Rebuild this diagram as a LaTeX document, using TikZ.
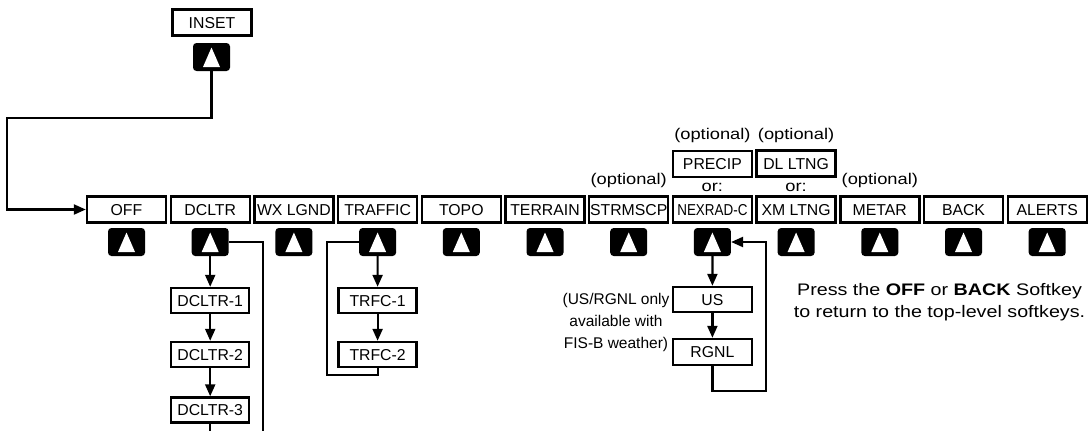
\documentclass[tikz,border=0pt]{standalone}
\usepackage{graphicx}
\usepackage{fontspec}
\setmainfont{Liberation Sans}
\newfontfamily\widefont[FakeStretch=1.18]{Liberation Sans}
\usetikzlibrary{arrows.meta}
\begin{document}
\begin{tikzpicture}[x=1pt,y=-1pt,
  lbl/.style={draw,line width=2.4pt,minimum width=79pt,minimum height=26pt,inner sep=0pt,
    text height=11.3pt,text depth=0pt,font=\fontsize{15.8}{18}\selectfont},
  sub/.style={lbl,minimum width=78pt,minimum height=25pt},
  key/.style={fill=black,rounded corners=3.5pt,minimum width=37pt,minimum height=28pt,inner sep=0pt,
    path picture={\fill[white,sharp corners] ([yshift=9.5pt]path picture bounding box.center) -- ++(8.5,19.5) -- ++(-17,0) -- cycle;}},
  conn/.style={line width=2.2pt},
  arr/.style={conn,-{Triangle[length=12pt,width=10pt]}},
  note/.style={inner sep=0pt,font=\widefont\fontsize{15.5}{18}\selectfont},
]
\path[use as bounding box,fill=white] (0,0) rectangle (1089,431);

% top row
\foreach \t [count=\i from 0] in {OFF,DCLTR,WX LGND,TRAFFIC,TOPO,TERRAIN,STRMSCP,{\scalebox{0.85}[1]{NEXRAD-C}},XM LTNG,METAR,BACK,ALERTS} {
  \node[lbl] (b\i) at ({126.5+83.7*\i},209.5) {\t};
  \node[key] (k\i) at ({126.5+83.7*\i},242) {};
}

% inset
\node[lbl] (inset) at (212,22.5) {INSET};
\node[key] (ki) at (211.5,57) {};
\coordinate (c1) at (7,118);
\draw[arr] (ki.south) -- (ki.south |- c1) -- (c1) |- (b0.west);

% declutter
\node[sub] (d1) at (210.2,300.5) {DCLTR-1};
\node[sub] (d2) at (210.2,354.5) {DCLTR-2};
\node[sub] (d3) at (210.2,410) {DCLTR-3};
\draw[arr] (k1.south) -- (d1.north);
\draw[arr] (d1.south) -- (d2.north);
\draw[arr] (d2.south) -- (d3.north);
\coordinate (e1) at (210.2,431);
\coordinate (c2) at (263,431);
\draw[conn] (d3.south) -- (e1);
\draw[conn] (k1.east) -| (c2);

% traffic
\node[sub] (t1) at (377.6,300.5) {TRFC-1};
\node[sub] (t2) at (377.6,354.5) {TRFC-2};
\draw[arr] (k3.south) -- (t1.north);
\draw[arr] (t1.south) -- (t2.north);
\coordinate (c3) at (327,375);
\draw[conn] (t2.south) |- (c3) |- (k3.west);

% nexrad
\node[lbl,minimum height=25pt] (u1) at (712.4,299.5) {US};
\node[lbl] (u2) at (712.4,352) {RGNL};
\draw[arr] (k7.south) -- (u1.north);
\draw[arr] (u1.south) -- (u2.north);
\coordinate (c4) at (766,391);
\draw[arr] (u2.south) |- (c4) |- (k7.east);

% optional alternatives
\node[lbl] (p1) at (712.4,164) {PRECIP};
\node[lbl] (p2) at (796.1,163.5) {DL LTNG};
\node[note] (or1) at (712.4,187) {or:};
\node[note] (or2) at (796.1,187) {or:};
\node[note] (o1) at (712.4,135) {(optional)};
\node[note] (o2) at (796.1,135) {(optional)};
\node[note] (o3) at (628.7,180) {(optional)};
\node[note] (o4) at (879.8,180) {(optional)};

% notes
\node[inner sep=0pt,align=center,font=\fontsize{15.5}{22}\selectfont] (n1) at (616,322)
  {(US/RGNL only\\available with\\FIS-B weather)};
\node[inner sep=0pt,align=center,font=\widefont\fontsize{16.7}{22}\selectfont] (n2) at (939.5,302)
  {Press the \textbf{OFF} or \textbf{BACK} Softkey\\to return to the top-level softkeys.};
\end{tikzpicture}
\end{document}
